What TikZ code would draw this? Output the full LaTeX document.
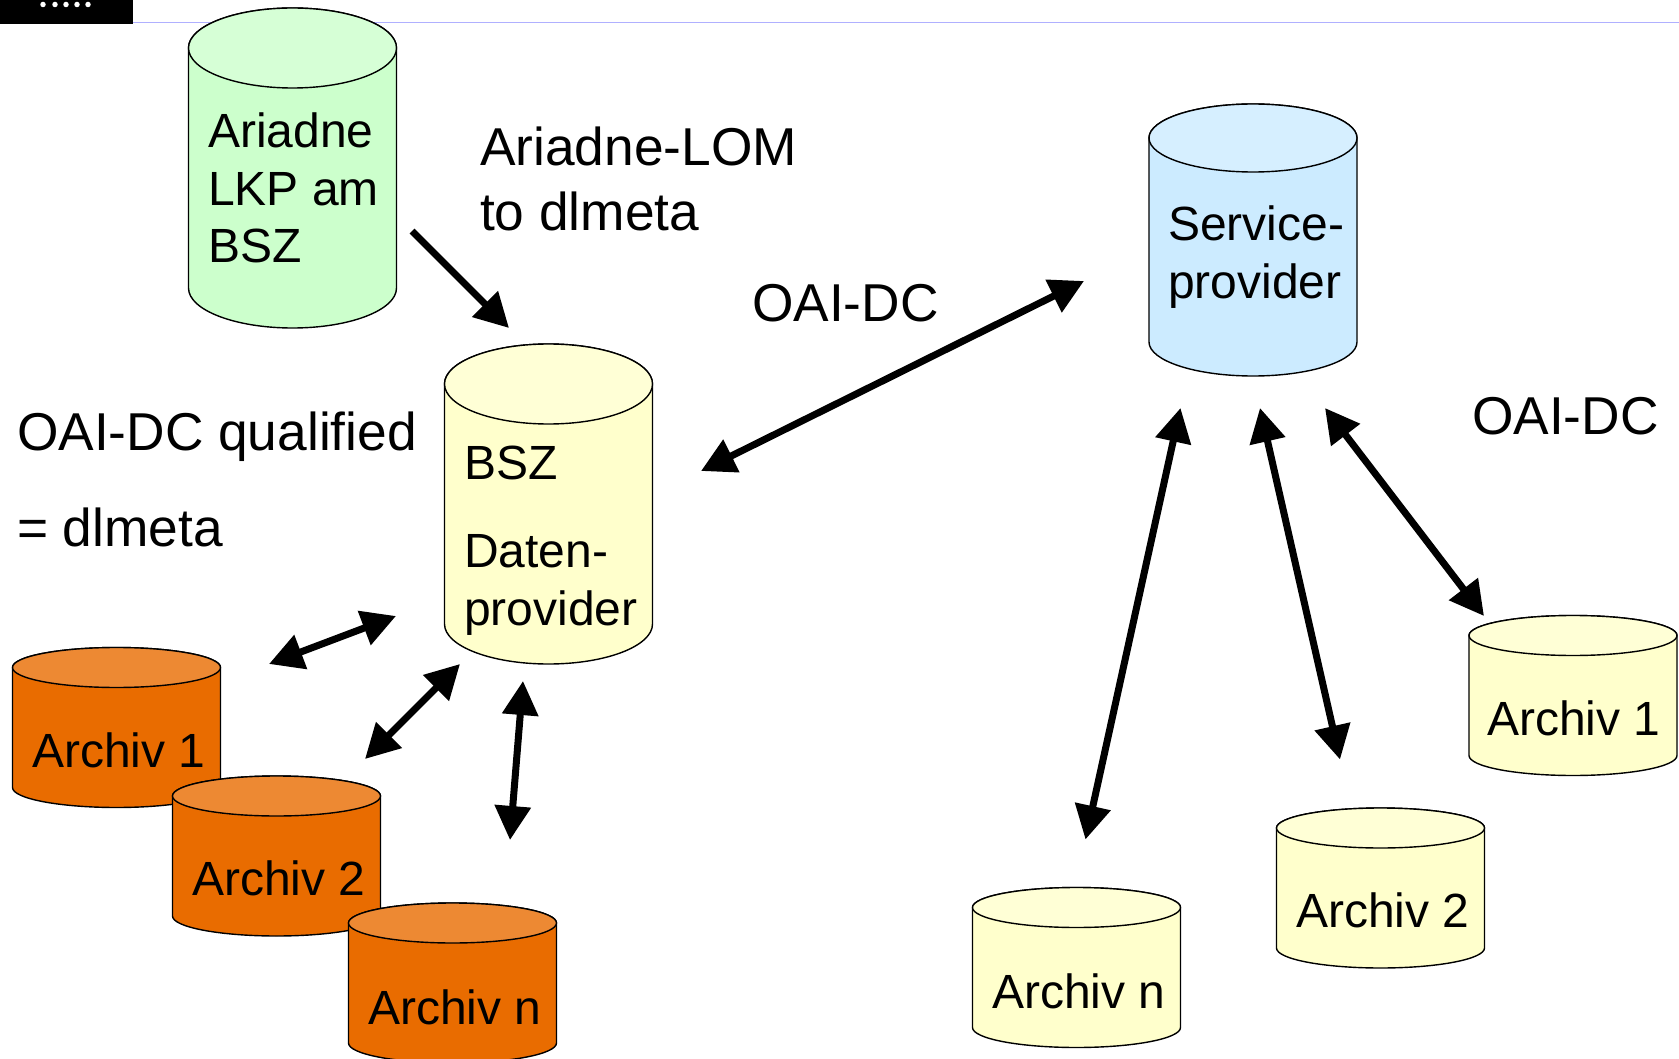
\documentclass[tikz,border=0pt]{standalone}
\usepackage{fontspec}
\setmainfont{Liberation Sans}
\usetikzlibrary{arrows.meta}
\definecolor{cgreen}{HTML}{CCFFCC}
\definecolor{cyellow}{HTML}{FFFFCC}
\definecolor{cblue}{HTML}{CCEBFF}
\definecolor{corange}{HTML}{E96C00}
\definecolor{hdrline}{HTML}{B0B0FF}
\tikzset{
  canbox/.style={rectangle,inner sep=0pt,outer sep=0pt,minimum width=208pt},
  canline/.style={draw=black,line width=1.4pt},
  smalltext/.style={anchor=base west,inner sep=0pt,outer sep=0pt,align=left,font=\fontsize{48}{57.5}\selectfont},
  bigtext/.style={anchor=base west,inner sep=0pt,outer sep=0pt,align=left,font=\fontsize{53.3}{65}\selectfont},
  oneway/.style={line width=7pt,-{Triangle[length=34pt,width=35pt]}},
  twoway/.style={line width=7pt,{Triangle[length=34pt,width=35pt]}-{Triangle[length=34pt,width=35pt]}},
  dot/.style={circle,fill=white,inner sep=0pt,minimum size=5.5pt}
}
\newcommand{\drawcan}[3]{%
  \path[canline,fill=#3] ([yshift=-#2pt]#1.north west) -- ([yshift=#2pt]#1.south west)
    arc[start angle=180,end angle=360,x radius=104pt,y radius=#2pt]
    -- ([yshift=-#2pt]#1.north east)
    arc[start angle=0,end angle=180,x radius=104pt,y radius=#2pt] -- cycle;
  \path[canline,fill=#3!80!white] ([yshift=-#2pt]#1.north) ellipse[x radius=104pt,y radius=#2pt];
}
\begin{document}
\begin{tikzpicture}[x=1pt,y=-1pt]
\useasboundingbox (0,0) rectangle (1679,1059);
% header
\coordinate (lineL) at (133,22.5);
\coordinate (lineR) at (1679,22.5);
\draw[hdrline,line width=1pt] (lineL) -- (lineR);
\fill[black] (0,0) rectangle (133,24);
\foreach \i/\xx in {1/43,2/55,3/66,4/77,5/88}{\node[dot] (d\i) at (\xx,4.5) {};}
% cylinders
\node[canbox,minimum height=320pt] (ariadne) at (292.5,168) {};
\drawcan{ariadne}{40}{cgreen}
\node[canbox,minimum height=320pt] (bsz) at (548.5,504) {};
\drawcan{bsz}{40}{cyellow}
\node[canbox,minimum height=272pt] (sp) at (1253,240) {};
\drawcan{sp}{34}{cblue}
\node[canbox,minimum height=160pt] (oa) at (116.5,727.5) {};
\drawcan{oa}{20}{corange}
\node[canbox,minimum height=160pt] (ob) at (276.5,856) {};
\drawcan{ob}{20}{corange}
\node[canbox,minimum height=160pt] (oc) at (452.5,983) {};
\drawcan{oc}{20}{corange}
\node[canbox,minimum height=160pt] (ya) at (1573,695.5) {};
\drawcan{ya}{20}{cyellow}
\node[canbox,minimum height=160pt] (yb) at (1380.5,888) {};
\drawcan{yb}{20}{cyellow}
\node[canbox,minimum height=160pt] (yc) at (1076.5,967.5) {};
\drawcan{yc}{20}{cyellow}
% texts in cylinders
\node[smalltext] (t1) at (208,263) {Ariadne\\LKP am\\BSZ};
\node[smalltext] (t2a) at (464,479.5) {BSZ};
\node[smalltext] (t2b) at (464,625) {Daten-\\provider};
\node[smalltext] (t3) at (1168,298.5) {Service-\\provider};
\node[smalltext] (t4) at (32,767) {Archiv 1};
\node[smalltext] (t5) at (192,895) {Archiv 2};
\node[smalltext] (t6) at (368,1024) {Archiv n};
\node[smalltext] (t7) at (1487,735) {Archiv 1};
\node[smalltext] (t8) at (1296,927) {Archiv 2};
\node[smalltext] (t9) at (992,1008) {Archiv n};
% free labels
\node[bigtext] (l1) at (480,230.5) {Ariadne-LOM\\to dlmeta};
\node[bigtext] (l2) at (752,322) {OAI-DC};
\node[bigtext] (l3) at (1472,434) {OAI-DC};
\node[bigtext] (l4) at (17,450) {OAI-DC qualified};
\node[bigtext] (l5) at (17,546) {= dlmeta};
% arrow ends
\coordinate (e1) at (412,231);
\coordinate (e2) at (509,328);
\coordinate (e3) at (701,471);
\coordinate (e4) at (1084,281);
\coordinate (e5) at (269,664);
\coordinate (e6) at (396,616);
\coordinate (e7) at (365,759);
\coordinate (e8) at (460,664);
\coordinate (e9) at (510,840);
\coordinate (e10) at (523,681);
\coordinate (e11) at (1085.5,839.5);
\coordinate (e12) at (1180.5,408);
\coordinate (e13) at (1260,408);
\coordinate (e14) at (1340,759.5);
\coordinate (e15) at (1325,408);
\coordinate (e16) at (1484,616);
\draw[oneway] (e1) -- (e2);
\draw[twoway] (e3) -- (e4);
\draw[twoway] (e5) -- (e6);
\draw[twoway] (e7) -- (e8);
\draw[twoway] (e9) -- (e10);
\draw[twoway] (e11) -- (e12);
\draw[twoway] (e13) -- (e14);
\draw[twoway] (e15) -- (e16);
\end{tikzpicture}
\end{document}
